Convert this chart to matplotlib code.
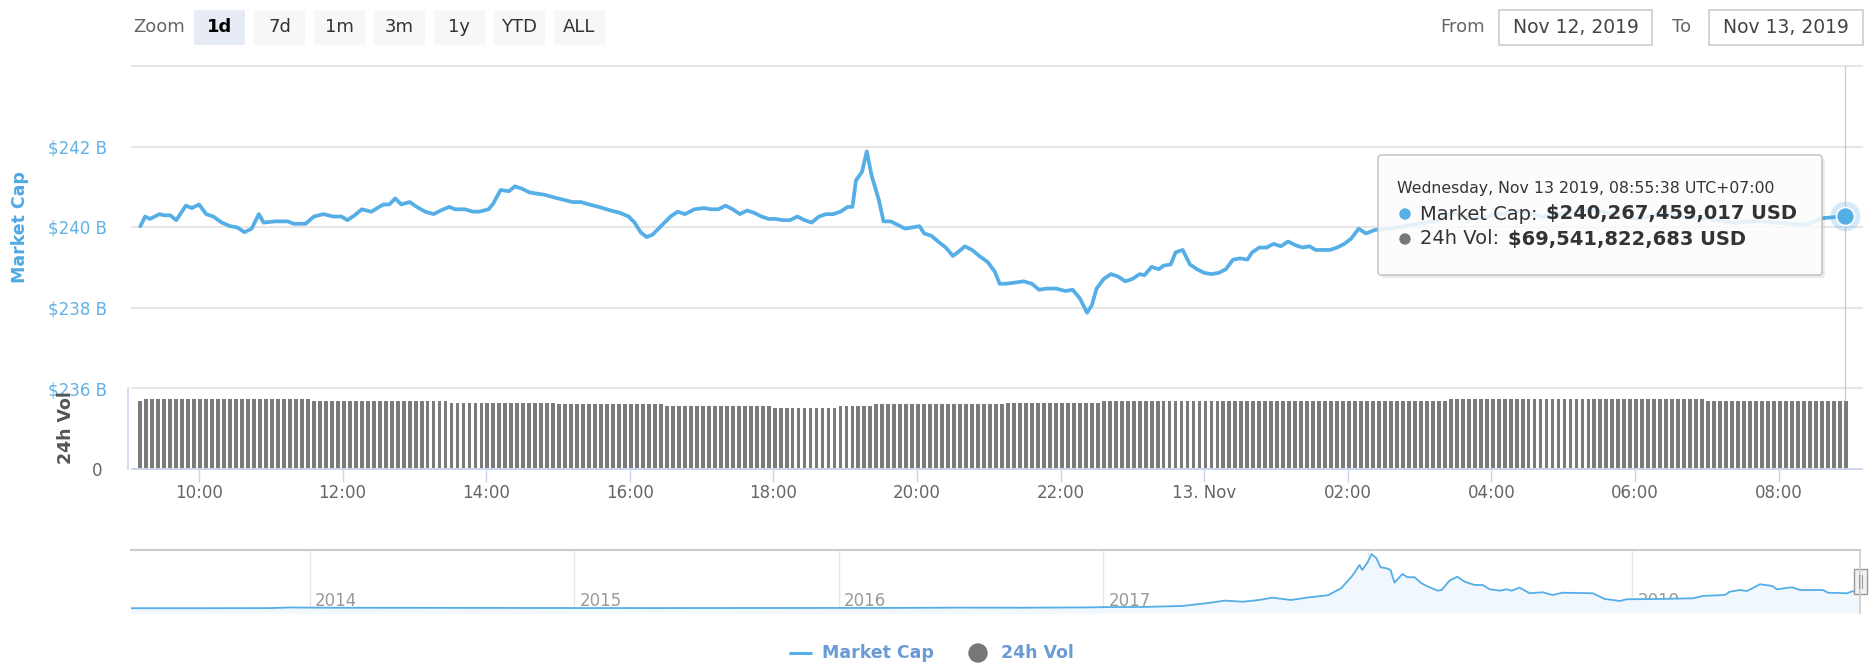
import numpy as np
import matplotlib
matplotlib.use("Agg")
import matplotlib.pyplot as plt
from matplotlib.patches import Rectangle, FancyBboxPatch, Circle

plt.rcParams['font.family'] = ['DejaVu Sans']

W, H = 1874, 668

# ---------------- data ----------------
# Market cap, minutes after 00:00 Nov 12 2019 (UTC+7), values in $B
mcap_minutes = [551, 555, 559, 567, 571, 576, 581, 589, 594, 600, 606, 612, 619, 626, 632, 638, 644, 650,
                654, 664, 674, 679, 689, 696, 704, 712, 719, 724, 730, 736, 744, 754, 759, 764, 769, 776,
                782, 789, 796, 802, 809, 814, 822, 829, 834, 842, 846, 852, 859, 864, 870, 876, 882, 889,
                896, 904, 912, 919, 926, 934, 944, 952, 959, 964, 969, 974, 979, 986, 994, 1000, 1006,
                1014, 1022, 1028, 1034, 1040, 1046, 1052, 1058, 1064, 1070, 1076, 1082, 1088, 1094, 1100,
                1106, 1112, 1118, 1124, 1130, 1136, 1142, 1146, 1149, 1154, 1158, 1162, 1168, 1172, 1178,
                1184, 1190, 1196, 1202, 1206, 1212, 1218, 1224, 1230, 1234, 1240, 1246, 1252, 1259, 1265,
                1269, 1274, 1282, 1289, 1296, 1302, 1308, 1316, 1324, 1330, 1336, 1342, 1346, 1350, 1356,
                1362, 1368, 1374, 1380, 1386, 1390, 1396, 1402, 1406, 1412, 1416, 1422, 1428, 1434, 1440,
                1446, 1452, 1458, 1464, 1470, 1476, 1480, 1486, 1492, 1498, 1504, 1510, 1516, 1522, 1528,
                1533, 1539, 1545, 1551, 1557, 1563, 1569, 1575, 1583, 1593, 1613, 1633, 1648, 1663, 1683,
                1703, 1723, 1743, 1763, 1783, 1802, 1822, 1842, 1862, 1882, 1902, 1922, 1942, 1957, 1975.6]
mcap_billions = [240.02, 240.26, 240.20, 240.32, 240.29, 240.29, 240.17, 240.53, 240.47, 240.56, 240.32,
                 240.26, 240.11, 240.02, 239.99, 239.87, 239.96, 240.32, 240.11, 240.14, 240.14, 240.08,
                 240.08, 240.26, 240.32, 240.26, 240.26, 240.17, 240.29, 240.44, 240.38, 240.56, 240.56,
                 240.71, 240.56, 240.62, 240.50, 240.38, 240.32, 240.41, 240.50, 240.44, 240.44, 240.38,
                 240.38, 240.44, 240.59, 240.92, 240.89, 241.01, 240.95, 240.86, 240.83, 240.80, 240.74,
                 240.68, 240.62, 240.62, 240.56, 240.50, 240.41, 240.35, 240.26, 240.11, 239.87, 239.75,
                 239.81, 240.02, 240.26, 240.38, 240.32, 240.44, 240.47, 240.44, 240.44, 240.53, 240.44,
                 240.32, 240.41, 240.35, 240.26, 240.20, 240.20, 240.17, 240.17, 240.26, 240.17, 240.11,
                 240.26, 240.32, 240.32, 240.38, 240.50, 240.50, 241.16, 241.37, 241.88, 241.28, 240.68,
                 240.14, 240.14, 240.05, 239.96, 239.99, 240.02, 239.84, 239.78, 239.63, 239.49, 239.28,
                 239.37, 239.52, 239.43, 239.28, 239.13, 238.89, 238.59, 238.59, 238.62, 238.65, 238.59,
                 238.44, 238.47, 238.47, 238.41, 238.44, 238.23, 237.87, 238.05, 238.47, 238.71, 238.83,
                 238.77, 238.65, 238.71, 238.83, 238.80, 239.01, 238.95, 239.04, 239.07, 239.37, 239.43,
                 239.07, 238.95, 238.86, 238.83, 238.86, 238.95, 239.19, 239.22, 239.19, 239.37, 239.49,
                 239.49, 239.58, 239.52, 239.64, 239.55, 239.49, 239.52, 239.43, 239.43, 239.43, 239.49,
                 239.58, 239.72, 239.96, 239.84, 239.93, 239.95, 240.05, 240.15, 240.35, 240.20, 240.30,
                 240.40, 240.25, 240.35, 240.45, 240.30, 240.20, 240.35, 240.25, 240.20, 240.10, 240.15,
                 240.10, 240.05, 240.22, 240.267]

# 24h volume ($B), one bar every 5 minutes, given as run-length levels
vol_minutes = np.arange(551, 1977, 5)
vol_levels = [69.5, 71.2, 69.2, 67.5, 66.2, 64.4, 62.3, 64.0, 66.2, 67.5, 69.5, 71.2, 69.5]
vol_counts = [1, 28, 23, 18, 18, 18, 11, 6, 22, 16, 58, 43, 24]

price_grid = [236, 238, 240, 242, 244]
price_ticks = [236, 238, 240, 242]
price_tick_labels = ['$236 B', '$238 B', '$240 B', '$242 B']
time_ticks_hours = [10, 12, 14, 16, 18, 20, 22, 24, 26, 28, 30, 32]
time_tick_labels = ['10:00', '12:00', '14:00', '16:00', '18:00', '20:00', '22:00', '13. Nov',
                    '02:00', '04:00', '06:00', '08:00']

# Navigator: all-time market cap ($B) by decimal year
nav_years = [2013.325, 2013.6, 2013.85, 2013.93, 2014.0, 2014.15, 2014.4, 2014.7, 2015.0, 2015.3, 2015.6,
             2015.9, 2016.2, 2016.45, 2016.7, 2016.95, 2017.0, 2017.15, 2017.3, 2017.39, 2017.46, 2017.53,
             2017.59, 2017.64, 2017.71, 2017.78, 2017.85, 2017.90, 2017.94, 2017.97, 2017.98, 2018.0,
             2018.015, 2018.034, 2018.049, 2018.072, 2018.087, 2018.102, 2018.132, 2018.151, 2018.178,
             2018.204, 2018.223, 2018.265, 2018.28, 2018.31, 2018.34, 2018.367, 2018.405, 2018.435,
             2018.462, 2018.5, 2018.526, 2018.545, 2018.575, 2018.613, 2018.662, 2018.7, 2018.738,
             2018.851, 2018.897, 2018.954, 2018.98, 2019.105, 2019.23, 2019.268, 2019.351, 2019.37,
             2019.408, 2019.435, 2019.484, 2019.53, 2019.548, 2019.605, 2019.635, 2019.722, 2019.741,
             2019.813, 2019.832, 2019.862]
nav_values = [1.5, 1.4, 3.0, 13, 10, 8, 7.5, 5.5, 4, 3.5, 4, 5, 6, 10, 9, 14, 18, 20, 36, 77, 117, 101,
              127, 163, 127, 168, 199, 306, 484, 663, 586, 700, 830, 765, 628, 612, 586, 392, 525, 475,
              475, 383, 342, 270, 280, 423, 484, 407, 357, 357, 291, 270, 291, 270, 316, 230, 245, 204,
              239, 230, 143, 112, 138, 143, 153, 189, 204, 254, 280, 265, 368, 342, 291, 322, 280, 280,
              239, 230, 260, 254]
nav_year_ticks = [2014, 2015, 2016, 2017, 2018, 2019]

zoom_buttons = ['1d', '7d', '1m', '3m', '1y', 'YTD', 'ALL']
date_from = 'Nov 12, 2019'
date_to = 'Nov 13, 2019'
tip_header = 'Wednesday, Nov 13 2019, 08:55:38 UTC+07:00'
tip_mcap = '$240,267,459,017 USD'
tip_vol = '$69,541,822,683 USD'

# ---------------- styling ----------------
BLUE = '#55aee6'
GRID = '#e6e6e6'
AXIS = '#ccd6eb'
GRAY_TXT = '#666666'

fig = plt.figure(figsize=(W / 100, H / 100), dpi=100)
fig.patch.set_facecolor('white')


def fbox(x0, y0, x1, y1):
    return [x0 / W, 1 - y1 / H, (x1 - x0) / W, (y1 - y0) / H]


ax_p = fig.add_axes(fbox(132, 66, 1862, 388))
ax_v = fig.add_axes(fbox(132, 388, 1862, 469), sharex=ax_p)
ax_n = fig.add_axes(fbox(131, 550, 1860, 613))
ui = fig.add_axes([0, 0, 1, 1], zorder=10)
ui.set_xlim(0, W)
ui.set_ylim(H, 0)
ui.axis('off')
ui.patch.set_alpha(0)

hours = np.array(mcap_minutes) / 60.0
vals = np.array(mcap_billions)

# ---- price panel ----
for a in (ax_p, ax_v, ax_n):
    a.patch.set_alpha(0)
    for s in a.spines.values():
        s.set_visible(False)

ax_p.set_ylim(236, 244)
ax_p.set_xlim(9.067, 33.16)
for g in price_grid:
    ax_p.axhline(g, color=GRID, lw=1.4, zorder=0, clip_on=False)
ax_p.set_yticks(price_ticks, price_tick_labels)
ax_p.tick_params(axis='y', length=0, pad=18, labelcolor='#62b1e6', labelsize=12)
ax_p.tick_params(axis='x', length=0, labelbottom=False)
ax_p.axvline(hours[-1], color='#cccccc', lw=0.9, zorder=1)
ax_p.plot(hours, vals, color=BLUE, lw=2.7, solid_joinstyle='round', solid_capstyle='round', zorder=3)
ax_p.plot(hours[-1], vals[-1], 'o', ms=21.6, color=BLUE, alpha=0.25, mec='none', zorder=4, clip_on=False)
ax_p.plot(hours[-1], vals[-1], 'o', ms=13, mfc=BLUE, mec='white', mew=1.2, zorder=5, clip_on=False)

# ---- volume panel ----
vol_values = np.repeat(vol_levels, vol_counts)
ax_v.bar(vol_minutes / 60.0, vol_values, width=3.2 / 60, color='#7b7b7b', edgecolor='none',
         linewidth=0, zorder=2)
ax_v.axvline(hours[-1], color='#cccccc', lw=0.9, zorder=1)
ax_v.set_ylim(0, 82.8)
ax_v.spines['left'].set_visible(True)
ax_v.spines['left'].set_color(AXIS)
ax_v.spines['left'].set_linewidth(1.2)
ax_v.spines['left'].set_position(('outward', 3))
ax_v.spines['bottom'].set_visible(True)
ax_v.spines['bottom'].set_color(AXIS)
ax_v.spines['bottom'].set_linewidth(1.4)
ax_v.set_yticks([0], ['0'])
ax_v.tick_params(axis='y', length=0, pad=18, labelcolor=GRAY_TXT, labelsize=12)
ax_v.set_xticks(time_ticks_hours, time_tick_labels)
ax_v.tick_params(axis='x', length=9.4, width=1.0, color=AXIS, direction='out', pad=1.5,
                 labelcolor=GRAY_TXT, labelsize=12)

# ---- navigator ----
ax_n.set_xlim(2013.325, 2019.862)
ax_n.set_ylim(-72, 892)
ax_n.set_xticks([])
ax_n.set_yticks([])
for y in nav_year_ticks:
    ax_n.axvline(y, color=GRID, lw=1.0, zorder=0)
    ax_n.text(y + 0.02, 0.19, str(y), transform=ax_n.get_xaxis_transform(), ha='left', va='center',
              color='#999999', fontsize=12, zorder=1)
ax_n.fill_between(nav_years, nav_values, -72, color='#f0f7fd', zorder=2, lw=0)
ax_n.plot(nav_years, nav_values, color=BLUE, lw=1.3, zorder=3)

ui.plot([131, 1860], [550, 550], color='#cccccc', lw=1.5)
ui.plot([1860, 1860], [550, 613], color='#cccccc', lw=1.2)
ui.add_patch(Rectangle((1854, 569), 13, 25, fc='#f2f2f2', ec='#999999', lw=1.0))
ui.plot([1859, 1859], [575, 588], color='#999999', lw=0.8)
ui.plot([1862, 1862], [575, 588], color='#999999', lw=0.8)

# ---- axis titles ----
ui.text(20, 227, 'Market Cap', rotation=90, ha='center', va='center', color='#4fa9e3',
        fontsize=12.5, fontweight='bold')
ui.text(66, 428, '24h Vol', rotation=90, ha='center', va='center', color='#555555',
        fontsize=12.5, fontweight='bold')

# ---- range selector ----
ui.text(133, 27.5, 'Zoom', ha='left', va='center', color=GRAY_TXT, fontsize=13)
for i, lab in enumerate(zoom_buttons):
    x0 = 194 + 60 * i
    sel = (i == 0)
    ui.add_patch(FancyBboxPatch((x0, 10), 51, 35, boxstyle='round,pad=0,rounding_size=2',
                                fc='#e6ebf5' if sel else '#f7f7f7', ec='none'))
    ui.text(x0 + 25.5, 27.5, lab, ha='center', va='center', fontsize=13,
            color='black' if sel else '#333333', fontweight='bold' if sel else 'normal')

ui.text(1440, 27.5, 'From', ha='left', va='center', color=GRAY_TXT, fontsize=13)
ui.add_patch(Rectangle((1499, 10), 153, 35, fc='white', ec='#cccccc', lw=1.2))
ui.text(1575.5, 27.5, date_from, ha='center', va='center', color='#444444', fontsize=13.5)
ui.text(1672, 27.5, 'To', ha='left', va='center', color=GRAY_TXT, fontsize=13)
ui.add_patch(Rectangle((1709, 10), 154, 35, fc='white', ec='#cccccc', lw=1.2))
ui.text(1786, 27.5, date_to, ha='center', va='center', color='#444444', fontsize=13.5)

# ---- tooltip ----
ui.add_patch(FancyBboxPatch((1381, 158), 444, 120, boxstyle='round,pad=0,rounding_size=3',
                            fc='black', alpha=0.08, ec='none'))
ui.add_patch(FancyBboxPatch((1378, 155), 444, 120, boxstyle='round,pad=0,rounding_size=3',
                            fc='white', alpha=0.86, ec='#bfbfbf', lw=1.2))
ui.text(1397, 189, tip_header, ha='left', va='center', color='#333333', fontsize=11.3)
renderer = fig.canvas.get_renderer()
ui.add_patch(Circle((1405, 214), 5, color=BLUE))
t1 = ui.text(1420, 214, 'Market Cap:', ha='left', va='center', color='#333333', fontsize=14)
bb = t1.get_window_extent(renderer)
ui.text(bb.x1 + 9, 214, tip_mcap, ha='left', va='center', color='#333333', fontsize=14,
        fontweight='bold')
ui.add_patch(Circle((1405, 239), 5, color='#777777'))
t2 = ui.text(1420, 239, '24h Vol:', ha='left', va='center', color='#333333', fontsize=14)
bb = t2.get_window_extent(renderer)
ui.text(bb.x1 + 9, 239, tip_vol, ha='left', va='center', color='#333333', fontsize=14,
        fontweight='bold')

# ---- legend ----
ui.plot([789, 812], [653, 653], color=BLUE, lw=2.2, solid_capstyle='butt')
ui.text(822, 653, 'Market Cap', ha='left', va='center', color='#6a9bd5', fontsize=12.5,
        fontweight='bold')
ui.add_patch(Circle((978, 653), 9, color='#777777'))
ui.text(1001, 653, '24h Vol', ha='left', va='center', color='#6a9bd5', fontsize=12.5,
        fontweight='bold')

fig.savefig('out.png', dpi=100)
